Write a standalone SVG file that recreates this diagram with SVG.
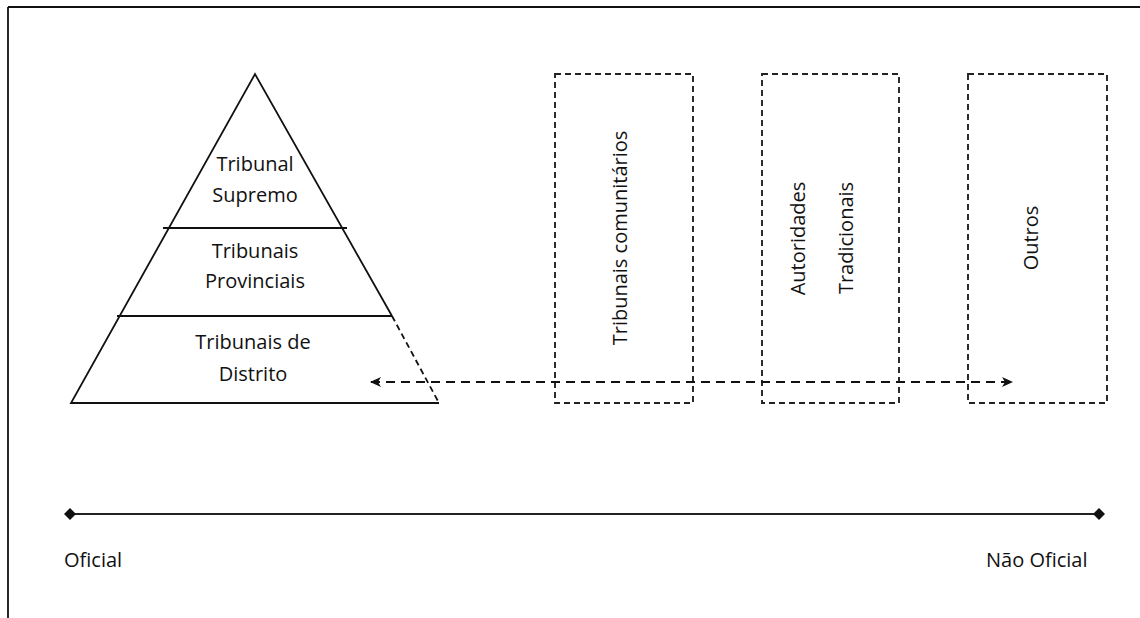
<svg xmlns="http://www.w3.org/2000/svg" width="1140" height="618" viewBox="0 0 1140 618">
<style>
text{font-family:"Open Sans","Noto Sans","Liberation Sans",sans-serif;font-size:20px;fill:#111}
.c{text-anchor:middle}
.solid{fill:none;stroke:#111;stroke-width:1.8}
.box{fill:none;stroke:#222;stroke-width:1.9;stroke-dasharray:6 4}
.dash{fill:none;stroke:#111;stroke-width:1.8;stroke-dasharray:6 4}
.arrow{fill:none;stroke:#111;stroke-width:2;stroke-dasharray:9 6}
.axis{fill:none;stroke:#222;stroke-width:2.2}
</style>
<defs>
<marker id="ah" markerWidth="12" markerHeight="10" refX="10" refY="5" orient="auto-start-reverse" markerUnits="userSpaceOnUse">
<path d="M0,0 L11,5 L0,10 L3,5 z" fill="#111"/>
</marker>
<marker id="dm" markerWidth="14" markerHeight="14" refX="7" refY="7" orient="auto" markerUnits="userSpaceOnUse">
<path d="M7,1 L13,7 L7,13 L1,7 z" fill="#111"/>
</marker>
</defs>
<rect width="1140" height="618" fill="#fff"/>
<g id="frame">
<line x1="8" y1="7" x2="1140" y2="7" class="solid" stroke-width="1.4"/>
<line x1="8" y1="7" x2="8" y2="618" class="solid" stroke-width="1.4"/>
</g>
<g id="pyramid">
<path d="M392,316 L255,74 L71,403 L439,403" class="solid"/>
<line x1="163" y1="228" x2="347" y2="228" class="solid"/>
<line x1="117" y1="316" x2="392" y2="316" class="solid"/>
<line x1="392" y1="316" x2="439" y2="403" class="dash"/>
</g>
<g id="tribunal-supremo">
<text class="c" x="255" y="171">Tribunal</text>
<text class="c" x="255" y="202">Supremo</text>
</g>
<g id="tribunais-provinciais">
<text class="c" x="255" y="258">Tribunais</text>
<text class="c" x="255" y="288">Provinciais</text>
</g>
<g id="tribunais-distrito">
<text class="c" x="253" y="349">Tribunais de</text>
<text class="c" x="253" y="381">Distrito</text>
</g>
<g id="tribunais-comunitarios">
<rect x="555" y="74" width="138" height="329" class="box"/>
<text class="c" transform="translate(627,238) rotate(-90)">Tribunais comunitários</text>
</g>
<g id="autoridades-tradicionais">
<rect x="762" y="74" width="137" height="329" class="box"/>
<text class="c" transform="translate(805,238.5) rotate(-90)">Autoridades</text>
<text class="c" transform="translate(853,238) rotate(-90)">Tradicionais</text>
</g>
<g id="outros">
<rect x="968" y="74" width="139" height="329" class="box"/>
<text class="c" transform="translate(1038,238) rotate(-90)">Outros</text>
</g>
<g id="connectors">
<line x1="371" y1="382" x2="1012" y2="382" class="arrow" marker-start="url(#ah)" marker-end="url(#ah)"/>
<line x1="70" y1="514" x2="1099" y2="514" class="axis" marker-start="url(#dm)" marker-end="url(#dm)"/>
</g>
<g id="axis-labels">
<text x="64" y="567">Oficial</text>
<text x="986" y="567">Não Oficial</text>
</g>
</svg>
